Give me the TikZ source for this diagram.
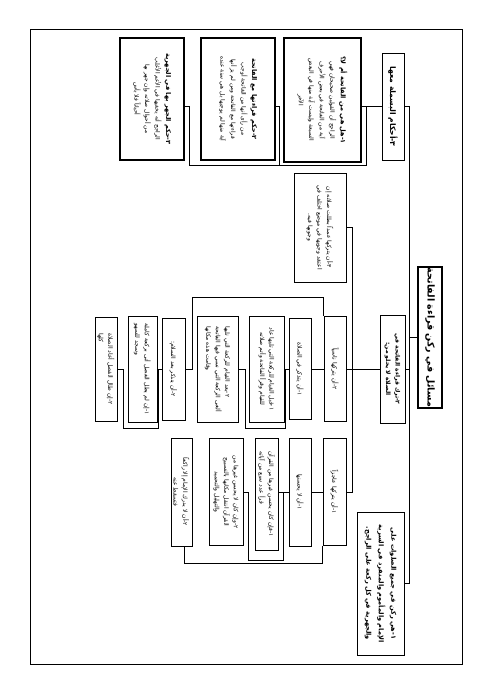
\documentclass[tikz,border=0pt]{standalone}
\usepackage{fontspec}
\newfontfamily\arabicfont[Script=Arabic]{DejaVu Sans}
\TeXXeTstate=1
\newcommand{\arline}[1]{\beginR #1\endR}
\newcommand{\headfont}{\arabicfont\bfseries\fontsize{6.5}{10.5}\selectfont}

\begin{document}
\begin{tikzpicture}[x=1pt,y=-1pt,
    box/.style={draw, line width=0.9pt, rotate=-90, inner sep=1pt, align=center,
        font=\arabicfont\fontsize{6}{9.5}\selectfont},
    topbox/.style={box, font=\arabicfont\bfseries\fontsize{6.6}{12.5}\selectfont},
    notebox/.style={box, line width=1.6pt, font=\arabicfont\fontsize{5.9}{10.5}\selectfont},
    link/.style={line width=0.9pt}]

    \useasboundingbox (0,0) rectangle (491,694);
    \draw[line width=1pt] (30,29) rectangle (462,664);

    % root and first level
    \node[box, line width=1.6pt, minimum width=127pt, minimum height=24pt,
        font=\arabicfont\bfseries\fontsize{9.5}{11}\selectfont] (root) at (430,337.5)
        {\arline{مسائل في ركن قراءة الفاتحة}};
    \node[topbox, minimum width=107pt, minimum height=22pt,
        font=\arabicfont\bfseries\fontsize{7.6}{9}\selectfont] (bism) at (393,106.5)
        {\arline{٣-أحكام البسملة معها}};
    \node[topbox, minimum width=108pt, minimum height=25pt,
        font=\arabicfont\bfseries\fontsize{6}{9.5}\selectfont] (tark) at (392.5,369)
        {\arline{٢-ترك قراءة الفاتحة في}\\ \arline{الصلاة لا يخلو من:}};
    \node[topbox, minimum width=143pt, minimum height=47pt] (rukn) at (380.5,583.5)
        {\arline{١-هي ركن في جميع الصلوات على}\\
         \arline{الإمام والمأموم والمنفرد في السرية}\\
         \arline{والجهرية في كل ركعة على الراجح.}};

    \draw[link] (root.south) -- ++(-8,0) coordinate (bus);
    \draw[link] (bism.north) -| (bus) |- (rukn.north);
    \draw[link] (tark.north) -- (tark.north -| bus);

    % basmala notes
    \node[notebox, minimum width=124pt, minimum height=77pt] (bism1) at (322.5,100)
        {{\headfont\arline{١-هل هي من الفاتحة أم لا؟}}\\
         \arline{الراجح أن القولين صحيحان فهي}\\
         \arline{آية من الفاتحة في بعض الأحرف}\\
         \arline{السبعة وليست آية منها في البعض}\\
         \arline{الآخر}};
    \node[notebox, minimum width=122pt, minimum height=74pt] (bism2) at (238,99)
        {{\headfont\arline{٢-حكم قراءتها مع الفاتحة}}\\
         \arline{من رأى أنها من الفاتحة أوجب}\\
         \arline{قراءتها مع الفاتحة ومن لم يرَ أنها}\\
         \arline{آية منها لم يوجبها بل هي سنة عنده}};
    \node[notebox, minimum width=122pt, minimum height=64pt] (bism3) at (152,99)
        {{\headfont\arline{٣-حكم الجهر بها في الجهرية}}\\
         \arline{الراجح أنه يخفيها في الأعم الأغلب}\\
         \arline{من أحوال صلاته وإن جهر بها}\\
         \arline{أحياناً فلا بأس}};

    \draw[link] (bism.south) -- (bism.south -| bism1.north);
    \coordinate (bj) at ([xshift=-15pt]bism.south);
    \draw[link] (bj) -- ++(0,58.5) coordinate (bb) -| ([xshift=5pt]bism3.north |- bj) -- (bism3.north |- bj);
    \draw[link] (bism2.north |- bj) -- ++(4,0) |- (bb);

    % leaving the fatiha
    \node[box, minimum width=109pt, minimum height=52pt] (amd) at (320,227.5)
        {\arline{٣-أن يتركها عمداً بطلت صلاته إن}\\
         \arline{اعتقد وجوبها في موضع اختلف في}\\
         \arline{وجوبها فيه.}};
    \node[box, minimum width=105pt, minimum height=22pt] (nas) at (335,369)
        {\arline{٢-أن يتركها ناسياً}};
    \node[box, minimum width=107pt, minimum height=23pt] (ajz) at (334.5,492)
        {\arline{١-أن يتركها عاجزاً}};

    \draw[link] (tark.south) -- (nas.north);
    \draw[link] (amd.north) -- ++(6,0) |- (ajz.north);

    % forgetting
    \node[box, minimum width=101pt, minimum height=22pt] (fis) at (300,369)
        {\arline{١-أن يتذكر في الصلاة}};
    \node[box, minimum width=106pt, minimum height=35pt] (qabl) at (266.5,369)
        {\arline{١-قبل القيام للركعة التي تليها عاد}\\
         \arline{للقيام وقرأ الفاتحة وأتم صلاته}};
    \node[box, align=left, minimum width=106pt, minimum height=41pt] (bad) at (217.5,369)
        {\arline{٢-بعد القيام للركعة التي تليها}\\
         \arline{ألغى الركعة التي نسي فيها الفاتحة}\\
         \arline{وقامت هذه مكانها}};
    \node[box, minimum width=102pt, minimum height=23pt] (salam) at (173.5,369)
        {\arline{٢-أن يتذكر بعد السلام:}};
    \node[box, align=left, minimum width=106pt, minimum height=29pt] (qasr) at (142.5,369)
        {\arline{١-إن لم يطل الفصل أتى بركعة كاملة}\\
         \arline{وسجد للسهو}};
    \node[box, align=left, minimum width=104pt, minimum height=22pt] (tal) at (106,369)
        {\arline{٢-إن طال الفصل أعاد الصلاة}\\
         \arline{كلها}};

    \draw[link] (nas.south) -- (fis.north);
    \draw[link] (nas.south west) -- ++(0,-19) -| ([xshift=7pt]salam.north) -- (salam.north);
    \draw[link] (fis.south) -- (qabl.north);
    \draw[link] ([xshift=-3pt]fis.south) -- ++(0,59) -| ([xshift=7pt]bad.north) -- (bad.north);
    \draw[link] (salam.south) -- (qasr.north);
    \draw[link] ([xshift=-3pt]salam.south) -- ++(0,59) -| ([xshift=6pt]tal.north) -- (tal.north);

    % inability
    \node[box, minimum width=108pt, minimum height=22pt] (lah) at (300,492)
        {\arline{١-أن لا يحسنها}};
    \node[box, align=left, minimum width=112pt, minimum height=23pt] (ghayr) at (266.5,494)
        {\arline{١-فإن كان يحسن غيرها من القرآن}\\
         \arline{قرأ عدد سبع من آياته}};
    \node[box, minimum width=107pt, minimum height=34pt] (tasb) at (226,492)
        {\arline{٢-وإن كان لا يحسن غيرها من}\\
         \arline{القرآن انتقل مكانها بالتسبيح}\\
         \arline{والتهليل والتحميد}};
    \node[box, minimum width=108pt, minimum height=21pt] (imam) at (181.5,492)
        {\arline{٢-أن لا يدرك الإمام إلا راكعاً}\\
         \arline{فتسقط عنه}};

    \draw[link] (ajz.south) -- (lah.north);
    \draw[link] (lah.south) -- (lah.south -| ghayr.north);
    \draw[link] ([xshift=-5pt]lah.south) -- ++(0,68) -| ([xshift=5pt]tasb.north) -- (tasb.north);
    \draw[link] (ajz.south east) -- ++(0,17) -| ([xshift=3pt]imam.east);

\end{tikzpicture}
\end{document}
